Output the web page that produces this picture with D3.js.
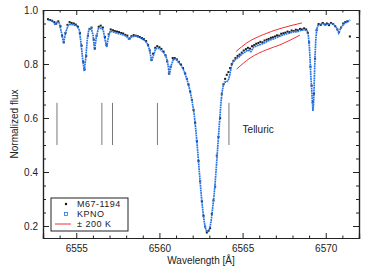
<!DOCTYPE html>
<html lang="en">
<head>
    <meta charset="UTF-8">
    <title>Halpha</title>
    <style>
        body { margin: 0; background: #fff; }
        text { font-family: "Liberation Sans", Arial, sans-serif; fill: #222; }
    </style>
</head>
<script src="https://d3js.org/d3.v7.min.js"></script>
<body>
    <div id="chart"></div>
</body>
<script>
// KPNO atlas (blue squares)
const kpnoWave = [6553.32,6553.50,6553.62,6553.74,6553.86,6553.98,6554.10,6554.24,6554.37,6554.52,6554.70,6554.88,
    6555.06,6555.18,6555.30,6555.39,6555.48,6555.57,6555.66,6555.75,6555.90,6556.02,6556.10,6556.20,6556.32,6556.50,
    6556.62,6556.74,6556.83,6556.92,6557.04,6557.22,6557.40,6557.64,6557.88,6558.06,6558.18,6558.30,6558.54,6558.84,
    6559.08,6559.26,6559.41,6559.53,6559.65,6559.77,6559.92,6560.10,6560.28,6560.43,6560.52,6560.60,6560.70,6560.85,
    6561.03,6561.18,6561.33,6561.48,6561.63,6561.75,6561.84,6561.93,6562.02,6562.08,6562.14,6562.20,6562.26,6562.32,
    6562.38,6562.44,6562.50,6562.56,6562.62,6562.68,6562.74,6562.80,6562.86,6562.92,6562.98,6563.04,6563.10,6563.16,
    6563.22,6563.28,6563.34,6563.40,6563.46,6563.52,6563.58,6563.64,6563.70,6563.76,6563.82,6563.91,6564.03,6564.15,
    6564.24,6564.33,6564.42,6564.60,6564.78,6564.96,6565.14,6565.32,6565.50,6565.68,6565.92,6566.16,6566.40,6566.64,
    6566.88,6567.12,6567.36,6567.60,6567.84,6568.08,6568.32,6568.56,6568.74,6568.89,6568.95,6569.01,6569.06,6569.10,
    6569.15,6569.19,6569.23,6569.27,6569.30,6569.33,6569.36,6569.40,6569.46,6569.55,6569.70,6569.88,6570.06,6570.24,
    6570.42,6570.66,6570.78,6570.90,6571.14,6571.32,6571.47]
const kpnoFlux = [0.963,0.961,0.956,0.944,0.956,0.952,0.919,0.878,0.919,0.944,0.948,0.944,
    0.941,0.926,0.870,0.815,0.774,0.822,0.889,0.926,0.933,0.904,0.852,0.896,0.930,0.933,
    0.926,0.889,0.863,0.896,0.922,0.919,0.915,0.911,0.907,0.900,0.889,0.900,0.904,0.898,
    0.889,0.878,0.852,0.811,0.833,0.856,0.859,0.852,0.841,0.822,0.796,0.759,0.793,0.819,
    0.815,0.804,0.793,0.774,0.748,0.722,0.700,0.674,0.641,0.619,0.585,0.548,0.507,0.463,
    0.415,0.370,0.326,0.285,0.252,0.222,0.200,0.185,0.178,0.180,0.185,0.196,0.215,0.244,
    0.278,0.311,0.352,0.400,0.452,0.504,0.556,0.607,0.656,0.693,0.715,0.733,0.733,0.741,
    0.763,0.793,0.807,0.819,0.826,0.837,0.844,0.852,0.846,0.863,0.869,0.874,0.881,0.889,
    0.893,0.900,0.906,0.911,0.915,0.919,0.920,0.926,0.926,0.922,0.907,0.870,0.815,0.759,
    0.711,0.667,0.626,0.656,0.711,0.778,0.833,0.889,0.930,0.944,0.950,0.948,0.946,0.950,
    0.950,0.933,0.915,0.933,0.952,0.957,0.963]

// M67-1194 (black dots)
const starWave = [6553.30,6553.42,6553.55,6553.68,6553.80,6553.92,6554.05,6554.15,6554.25,6554.35,6554.47,6554.60,
    6554.72,6554.85,6554.97,6555.10,6555.22,6555.32,6555.42,6555.50,6555.60,6555.70,6555.80,6555.92,6556.05,6556.12,
    6556.22,6556.35,6556.47,6556.60,6556.72,6556.82,6556.95,6557.07,6557.20,6557.32,6557.45,6557.57,6557.70,6557.82,
    6557.95,6558.07,6558.20,6558.32,6558.45,6558.57,6558.70,6558.82,6558.95,6559.07,6559.20,6559.32,6559.42,6559.52,
    6559.62,6559.75,6559.87,6560.00,6560.12,6560.25,6560.37,6560.47,6560.57,6560.67,6560.80,6560.92,6561.05,6561.17,
    6561.30,6561.42,6561.55,6561.65,6561.75,6561.85,6561.95,6562.05,6562.15,6562.25,6562.35,6562.45,6562.55,6562.65,
    6562.75,6562.85,6562.95,6563.05,6563.15,6563.25,6563.35,6563.45,6563.55,6563.65,6563.75,6563.85,6563.95,6564.05,
    6564.15,6564.25,6564.35,6564.45,6564.57,6564.70,6564.82,6564.95,6565.07,6565.20,6565.32,6565.45,6565.57,6565.70,
    6565.82,6565.95,6566.07,6566.20,6566.32,6566.45,6566.57,6566.70,6566.82,6566.95,6567.07,6567.20,6567.32,6567.45,
    6567.57,6567.70,6567.82,6567.95,6568.07,6568.20,6568.32,6568.45,6568.57,6568.70,6568.82,6568.92,6569.00,6569.08,
    6569.15,6569.22,6569.29,6569.36,6569.45,6569.57,6569.70,6569.82,6569.95,6570.07,6570.20,6570.32,6570.45,6570.57,
    6570.70,6570.80,6570.92,6571.05,6571.17,6571.30,6571.45]
const starFlux = [0.966,0.963,0.960,0.955,0.950,0.958,0.940,0.905,0.880,0.915,0.945,0.955,
    0.952,0.950,0.946,0.938,0.915,0.868,0.808,0.780,0.830,0.905,0.930,0.935,0.890,0.858,
    0.905,0.938,0.942,0.935,0.900,0.870,0.910,0.928,0.925,0.922,0.920,0.918,0.915,0.913,
    0.908,0.905,0.895,0.903,0.907,0.905,0.903,0.900,0.896,0.892,0.885,0.870,0.850,0.815,
    0.838,0.860,0.866,0.862,0.856,0.846,0.832,0.810,0.765,0.790,0.822,0.822,0.817,0.808,
    0.798,0.785,0.765,0.745,0.724,0.698,0.667,0.630,0.582,0.515,0.441,0.365,0.292,0.238,
    0.198,0.176,0.182,0.192,0.245,0.295,0.346,0.461,0.530,0.600,0.690,0.725,0.745,0.760,
    0.770,0.785,0.800,0.812,0.822,0.830,0.835,0.842,0.850,0.855,0.860,0.857,0.866,0.870,
    0.875,0.878,0.882,0.880,0.887,0.890,0.893,0.897,0.899,0.902,0.906,0.905,0.912,0.914,
    0.916,0.920,0.918,0.924,0.922,0.927,0.925,0.930,0.928,0.932,0.928,0.915,0.880,0.790,
    0.720,0.660,0.690,0.820,0.925,0.948,0.945,0.952,0.946,0.950,0.944,0.952,0.948,0.940,
    0.928,0.918,0.935,0.950,0.955,0.958,0.902]

// +/- 200 K model envelopes
const hotWave = [6564.60,6565.25,6566.25,6567.25,6568.57]
const hotFlux = [0.846,0.878,0.909,0.931,0.952]
const coolWave = [6564.64,6565.45,6566.45,6567.25,6568.45]
const coolFlux = [0.781,0.822,0.853,0.871,0.907]

// telluric markers
const telluric = [6553.84,6556.54,6557.18,6559.88,6564.18]
const telluricRange = [0.500, 0.656]

const xTicks = [6555, 6560, 6565, 6570]
const yTicks = [0.2, 0.4, 0.6, 0.8, 1.0]

const width = 365
const height = 269
const pL = 43, pR = 359, pT = 10, pB = 238

const x = d3.scaleLinear().domain([6553, 6572]).range([pL, pR])
const y = d3.scaleLinear().domain([0.1556, 1.0]).range([pB, pT])

const svg = d3.select("#chart")
    .append("svg")
      .attr("width", width)
      .attr("height", height)

const kpno = kpnoWave.map((w, i) => ({w: w, f: kpnoFlux[i]}))
const star = starWave.map((w, i) => ({w: w, f: starFlux[i]}))

const plot = svg.append("g")

// telluric lines
plot.selectAll(".tel")
    .data(telluric)
    .enter()
    .append("line")
    .attr("x1", d => x(d)).attr("x2", d => x(d))
    .attr("y1", y(telluricRange[0])).attr("y2", y(telluricRange[1]))
    .attr("stroke", "#777")
    .attr("stroke-width", 1)
plot.append("text")
    .attr("x", x(6565.0))
    .attr("y", y(0.545))
    .attr("font-size", 10)
    .text("Telluric")

// model envelopes
const line = d3.line().x(d => x(d.w)).y(d => y(d.f)).curve(d3.curveMonotoneX)
;[[hotWave, hotFlux], [coolWave, coolFlux]].forEach(([ws, fs]) => {
    plot.append("path")
        .datum(ws.map((w, i) => ({w: w, f: fs[i]})))
        .attr("fill", "none")
        .attr("stroke", "#f03030")
        .attr("stroke-width", 1)
        .attr("d", line)
})

// M67-1194 behind
plot.selectAll(".star")
    .data(star)
    .enter()
    .append("rect")
    .attr("x", d => x(d.w) - 1)
    .attr("y", d => y(d.f) - 1)
    .attr("width", 2).attr("height", 2)
    .attr("fill", "#1a1a1a")

// KPNO
plot.append("path")
    .datum(kpno)
    .attr("fill", "none")
    .attr("stroke", "#2574ea")
    .attr("stroke-width", 1.7)
    .attr("stroke-dasharray", "1.8,0.6")
    .attr("d", d3.line().x(d => x(d.w)).y(d => y(d.f)))

// axes
const tickStyle = g => {
    g.selectAll("path").attr("stroke", "#222").attr("stroke-width", 1.2)
    g.selectAll("line").attr("stroke", "#222")
    g.selectAll("text").attr("font-size", 10).attr("fill", "#333")
        .attr("font-family", "Liberation Sans, Arial, sans-serif")
}
const minorX = d3.range(6553, 6573).filter(v => v % 5 !== 0)
const minorY = d3.range(0.2, 1.0, 0.05).map(v => +v.toFixed(2)).filter(v => Math.round(v * 100) % 20 !== 0)

svg.append("g").attr("transform", `translate(0,${pB})`)
    .call(d3.axisBottom(x).tickValues(xTicks).tickSize(-5).tickPadding(7).tickFormat(d3.format("d")))
    .call(tickStyle)
svg.append("g").attr("transform", `translate(0,${pB})`)
    .call(d3.axisBottom(x).tickValues(minorX).tickSize(-2.5).tickFormat(""))
    .call(tickStyle)
svg.append("g").attr("transform", `translate(0,${pT})`)
    .call(d3.axisTop(x).tickValues(xTicks).tickSize(-5).tickFormat(""))
    .call(tickStyle)
svg.append("g").attr("transform", `translate(0,${pT})`)
    .call(d3.axisTop(x).tickValues(minorX).tickSize(-2.5).tickFormat(""))
    .call(tickStyle)
svg.append("g").attr("transform", `translate(${pL},0)`)
    .call(d3.axisLeft(y).tickValues(yTicks).tickSize(-6).tickPadding(5).tickFormat(d3.format(".1f")))
    .call(tickStyle)
svg.append("g").attr("transform", `translate(${pL},0)`)
    .call(d3.axisLeft(y).tickValues(minorY).tickSize(-3).tickFormat(""))
    .call(tickStyle)
svg.append("g").attr("transform", `translate(${pR},0)`)
    .call(d3.axisRight(y).tickValues(yTicks).tickSize(-6).tickFormat(""))
    .call(tickStyle)
svg.append("g").attr("transform", `translate(${pR},0)`)
    .call(d3.axisRight(y).tickValues(minorY).tickSize(-3).tickFormat(""))
    .call(tickStyle)

// axis titles
svg.append("text")
    .attr("x", (pL + pR) / 2)
    .attr("y", 264)
    .attr("text-anchor", "middle")
    .attr("font-size", 10)
    .text("Wavelength [Å]")
svg.append("text")
    .attr("transform", `translate(18,${(pT + pB) / 2}) rotate(-90)`)
    .attr("text-anchor", "middle")
    .attr("font-size", 10)
    .text("Normalized flux")

// legend
const lg = svg.append("g")
lg.append("rect")
    .attr("x", 51).attr("y", 198).attr("width", 77).attr("height", 33)
    .attr("fill", "#fff").attr("stroke", "#222").attr("stroke-width", 1)
lg.append("circle").attr("cx", 66).attr("cy", 204).attr("r", 1.2).attr("fill", "#111")
lg.append("rect").attr("x", 64.5).attr("y", 212.5).attr("width", 3).attr("height", 3)
    .attr("fill", "none").attr("stroke", "#2574ea").attr("stroke-width", 0.8)
lg.append("line").attr("x1", 55).attr("x2", 71).attr("y1", 224).attr("y2", 224)
    .attr("stroke", "#f03030").attr("stroke-width", 1)
const labels = ["M67-1194", "KPNO", "± 200 K"]
lg.selectAll(".lab")
    .data(labels)
    .enter()
    .append("text")
    .attr("x", 77)
    .attr("y", (d, i) => 204 + i * 10)
    .attr("dy", "0.35em")
    .attr("font-size", 9)
    .attr("letter-spacing", 0.5)
    .text(d => d)
</script>
</html>
